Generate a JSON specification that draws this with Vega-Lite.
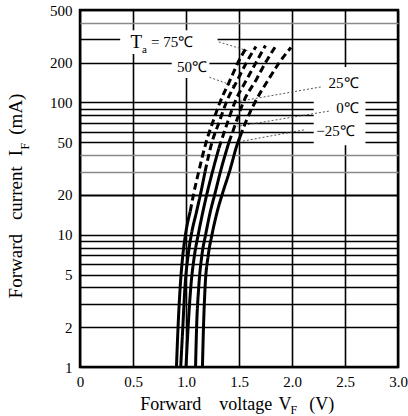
{
  "$schema": "https://vega.github.io/schema/vega-lite/v6.json",
  "width": 318,
  "height": 357,
  "autosize": {"type": "none"},
  "padding": {"left": 80, "top": 10, "right": 10, "bottom": 49},
  "config": {
    "view": {"stroke": "black", "strokeWidth": 2.5},
    "font": "Liberation Serif",
    "text": {"font": "Liberation Serif", "color": "black"}
  },
  "datasets": {
    "curves": [
      {"t": "75", "part": "solid", "i": 1, "v": 0.91},
      {"t": "75", "part": "solid", "i": 2, "v": 0.925},
      {"t": "75", "part": "solid", "i": 4, "v": 0.945},
      {"t": "75", "part": "solid", "i": 7, "v": 0.97},
      {"t": "75", "part": "solid", "i": 10, "v": 0.995},
      {"t": "75", "part": "solid", "i": 15, "v": 1.04},
      {"t": "75", "part": "dashed", "i": 15, "v": 1.04},
      {"t": "75", "part": "dashed", "i": 20, "v": 1.07},
      {"t": "75", "part": "dashed", "i": 30, "v": 1.12},
      {"t": "75", "part": "dashed", "i": 50, "v": 1.19},
      {"t": "75", "part": "dashed", "i": 70, "v": 1.25},
      {"t": "75", "part": "dashed", "i": 100, "v": 1.32},
      {"t": "75", "part": "dashed", "i": 150, "v": 1.42},
      {"t": "75", "part": "dashed", "i": 200, "v": 1.49},
      {"t": "75", "part": "dashed", "i": 260, "v": 1.57},

      {"t": "50", "part": "solid", "i": 1, "v": 0.95},
      {"t": "50", "part": "solid", "i": 2, "v": 0.97},
      {"t": "50", "part": "solid", "i": 4, "v": 0.99},
      {"t": "50", "part": "solid", "i": 7, "v": 1.02},
      {"t": "50", "part": "solid", "i": 10, "v": 1.05},
      {"t": "50", "part": "solid", "i": 15, "v": 1.1},
      {"t": "50", "part": "solid", "i": 20, "v": 1.135},
      {"t": "50", "part": "solid", "i": 30, "v": 1.18},
      {"t": "50", "part": "dashed", "i": 30, "v": 1.18},
      {"t": "50", "part": "dashed", "i": 50, "v": 1.245},
      {"t": "50", "part": "dashed", "i": 70, "v": 1.31},
      {"t": "50", "part": "dashed", "i": 100, "v": 1.38},
      {"t": "50", "part": "dashed", "i": 150, "v": 1.49},
      {"t": "50", "part": "dashed", "i": 200, "v": 1.57},
      {"t": "50", "part": "dashed", "i": 265, "v": 1.66},

      {"t": "25", "part": "solid", "i": 1, "v": 1.0},
      {"t": "25", "part": "solid", "i": 2, "v": 1.02},
      {"t": "25", "part": "solid", "i": 4, "v": 1.045},
      {"t": "25", "part": "solid", "i": 7, "v": 1.08},
      {"t": "25", "part": "solid", "i": 10, "v": 1.115},
      {"t": "25", "part": "solid", "i": 15, "v": 1.16},
      {"t": "25", "part": "solid", "i": 20, "v": 1.195},
      {"t": "25", "part": "solid", "i": 30, "v": 1.25},
      {"t": "25", "part": "solid", "i": 45, "v": 1.31},
      {"t": "25", "part": "dashed", "i": 45, "v": 1.31},
      {"t": "25", "part": "dashed", "i": 70, "v": 1.39},
      {"t": "25", "part": "dashed", "i": 100, "v": 1.46},
      {"t": "25", "part": "dashed", "i": 150, "v": 1.575},
      {"t": "25", "part": "dashed", "i": 200, "v": 1.66},
      {"t": "25", "part": "dashed", "i": 270, "v": 1.75},

      {"t": "0", "part": "solid", "i": 1, "v": 1.09},
      {"t": "0", "part": "solid", "i": 2, "v": 1.1},
      {"t": "0", "part": "solid", "i": 4, "v": 1.12},
      {"t": "0", "part": "solid", "i": 7, "v": 1.15},
      {"t": "0", "part": "solid", "i": 10, "v": 1.185},
      {"t": "0", "part": "solid", "i": 15, "v": 1.23},
      {"t": "0", "part": "solid", "i": 20, "v": 1.27},
      {"t": "0", "part": "solid", "i": 30, "v": 1.325},
      {"t": "0", "part": "solid", "i": 50, "v": 1.405},
      {"t": "0", "part": "dashed", "i": 50, "v": 1.405},
      {"t": "0", "part": "dashed", "i": 70, "v": 1.47},
      {"t": "0", "part": "dashed", "i": 100, "v": 1.54},
      {"t": "0", "part": "dashed", "i": 150, "v": 1.665},
      {"t": "0", "part": "dashed", "i": 200, "v": 1.75},
      {"t": "0", "part": "dashed", "i": 270, "v": 1.85},

      {"t": "-25", "part": "solid", "i": 1, "v": 1.155},
      {"t": "-25", "part": "solid", "i": 2, "v": 1.165},
      {"t": "-25", "part": "solid", "i": 4, "v": 1.18},
      {"t": "-25", "part": "solid", "i": 7, "v": 1.21},
      {"t": "-25", "part": "solid", "i": 10, "v": 1.245},
      {"t": "-25", "part": "solid", "i": 15, "v": 1.295},
      {"t": "-25", "part": "solid", "i": 20, "v": 1.34},
      {"t": "-25", "part": "solid", "i": 30, "v": 1.41},
      {"t": "-25", "part": "solid", "i": 50, "v": 1.49},
      {"t": "-25", "part": "solid", "i": 55, "v": 1.51},
      {"t": "-25", "part": "dashed", "i": 55, "v": 1.51},
      {"t": "-25", "part": "dashed", "i": 70, "v": 1.56},
      {"t": "-25", "part": "dashed", "i": 100, "v": 1.65},
      {"t": "-25", "part": "dashed", "i": 150, "v": 1.78},
      {"t": "-25", "part": "dashed", "i": 200, "v": 1.88},
      {"t": "-25", "part": "dashed", "i": 260, "v": 1.99}
    ],
    "labelBoxes": [
      {"v1": 0.379, "v2": 1.298, "i1": 232, "i2": 352},
      {"v1": 0.865, "v2": 1.221, "i1": 153, "i2": 232},
      {"v1": 2.205, "v2": 2.693, "i1": 47.5, "i2": 185}
    ],
    "leaders": [
      {"t": "75", "v1": 1.309, "i1": 287, "v2": 1.58, "i2": 246},
      {"t": "50", "v1": 1.221, "i1": 155, "v2": 1.456, "i2": 133},
      {"t": "25", "v1": 2.271, "i1": 131, "v2": 1.502, "i2": 102},
      {"t": "0", "v1": 2.347, "i1": 86, "v2": 1.485, "i2": 66},
      {"t": "-25", "v1": 2.112, "i1": 62, "v2": 1.533, "i2": 51}
    ],
    "tempLabels": [
      {"txt": "= 75℃", "v": 0.87, "i": 286},
      {"txt": "50℃", "v": 1.057, "i": 185},
      {"txt": "25℃", "v": 2.486, "i": 140},
      {"txt": "0℃", "v": 2.524, "i": 90.5},
      {"txt": "−25℃", "v": 2.411, "i": 60.7}
    ],
    "symbolT": [{"txt": "T", "v": 0.532, "i": 286}],
    "subA": [{"txt": "a", "v": 0.607, "i": 250}],
    "xTitle": [
      {"txt": "Forward", "v": 0.856, "i": 0.513},
      {"txt": "voltage", "v": 1.563, "i": 0.513},
      {"txt": "V", "v": 1.933, "i": 0.513},
      {"txt": "(V)", "v": 2.28, "i": 0.513}
    ],
    "xTitleSub": [{"txt": "F", "v": 2.018, "i": 0.47}],
    "yTitle": [
      {"txt": "Forward", "v": -0.606, "i": 5.78},
      {"txt": "current", "v": -0.606, "i": 20.6},
      {"txt": "I", "v": -0.606, "i": 41.4},
      {"txt": "(mA)", "v": -0.606, "i": 81.6}
    ],
    "yTitleSub": [{"txt": "F", "v": -0.52, "i": 46.7}]
  },
  "layer": [
    {
      "data": {"name": "labelBoxes"},
      "mark": {"type": "rect", "fill": "white", "stroke": null},
      "encoding": {
        "x": {"field": "v1", "type": "quantitative", "axis": {"title": null}},
        "x2": {"field": "v2"},
        "y": {"field": "i1", "type": "quantitative", "axis": {"title": null}},
        "y2": {"field": "i2"}
      }
    },
    {
      "data": {"name": "leaders"},
      "mark": {"type": "rule", "color": "#444", "strokeWidth": 0.9, "strokeDash": [2, 2]},
      "encoding": {
        "x": {"field": "v1", "type": "quantitative", "axis": {"title": null}},
        "y": {"field": "i1", "type": "quantitative", "axis": {"title": null}},
        "x2": {"field": "v2"},
        "y2": {"field": "i2"}
      }
    },
    {
      "data": {"name": "curves"},
      "mark": {"type": "line", "color": "black", "strokeWidth": 3, "interpolate": "monotone", "strokeCap": "butt"},
      "encoding": {
        "x": {
          "field": "v", "type": "quantitative",
          "scale": {"type": "linear", "domain": [0, 3], "nice": false, "zero": false},
          "axis": {
            "values": [0, 0.5, 1, 1.5, 2, 2.5, 3],
            "grid": true, "gridColor": "black", "gridWidth": 1.6, "gridOpacity": 1,
            "ticks": false, "domain": false,
            "labelFont": "Liberation Serif", "labelFontSize": 15, "labelColor": "black",
            "labelPadding": 7, "labelFlush": false,
            "labelExpr": "datum.value === 0 ? '0' : format(datum.value, '.1f')",
            "title": null
          }
        },
        "y": {
          "field": "i", "type": "quantitative",
          "scale": {"type": "log", "domain": [1, 500], "nice": false},
          "axis": {
            "values": [1, 2, 3, 4, 5, 6, 7, 8, 9, 10, 20, 30, 40, 50, 60, 70, 80, 90, 100, 200, 300, 400, 500],
            "grid": true,
            "gridColor": {"condition": {"test": "datum.value === 30 || datum.value === 40 || datum.value === 400", "value": "#8a8a8a"}, "value": "black"},
            "gridWidth": {"condition": {"test": "datum.value === 20", "value": 2.2}, "value": 1.3},
            "ticks": false, "domain": false,
            "labelFont": "Liberation Serif", "labelFontSize": 15, "labelColor": "black",
            "labelPadding": 8, "labelOverlap": false,
            "labelExpr": "indexof([1, 2, 5, 10, 20, 50, 100, 200, 500], datum.value) >= 0 ? format(datum.value, 'd') : ''",
            "title": null
          }
        },
        "detail": {"field": "t"},
        "order": {"field": "i", "type": "quantitative"},
        "strokeDash": {
          "field": "part", "type": "nominal",
          "scale": {"domain": ["solid", "dashed"], "range": [[1, 0], [7, 4]]},
          "legend": null
        }
      }
    },
    {
      "data": {"name": "tempLabels"},
      "mark": {"type": "text", "fontSize": 15, "align": "center", "baseline": "middle"},
      "encoding": {
        "x": {"field": "v", "type": "quantitative", "axis": {"title": null}},
        "y": {"field": "i", "type": "quantitative", "axis": {"title": null}},
        "text": {"field": "txt"}
      }
    },
    {
      "data": {"name": "symbolT"},
      "mark": {"type": "text", "fontSize": 19, "align": "center", "baseline": "middle"},
      "encoding": {
        "x": {"field": "v", "type": "quantitative", "axis": {"title": null}},
        "y": {"field": "i", "type": "quantitative", "axis": {"title": null}},
        "text": {"field": "txt"}
      }
    },
    {
      "data": {"name": "subA"},
      "mark": {"type": "text", "fontSize": 11, "align": "center", "baseline": "middle"},
      "encoding": {
        "x": {"field": "v", "type": "quantitative", "axis": {"title": null}},
        "y": {"field": "i", "type": "quantitative", "axis": {"title": null}},
        "text": {"field": "txt"}
      }
    },
    {
      "data": {"name": "xTitle"},
      "mark": {"type": "text", "fontSize": 18, "align": "center", "baseline": "middle"},
      "encoding": {
        "x": {"field": "v", "type": "quantitative", "axis": {"title": null}},
        "y": {"field": "i", "type": "quantitative", "axis": {"title": null}},
        "text": {"field": "txt"}
      }
    },
    {
      "data": {"name": "xTitleSub"},
      "mark": {"type": "text", "fontSize": 12, "align": "center", "baseline": "middle"},
      "encoding": {
        "x": {"field": "v", "type": "quantitative", "axis": {"title": null}},
        "y": {"field": "i", "type": "quantitative", "axis": {"title": null}},
        "text": {"field": "txt"}
      }
    },
    {
      "data": {"name": "yTitle"},
      "mark": {"type": "text", "fontSize": 19, "align": "center", "baseline": "middle", "angle": 270},
      "encoding": {
        "x": {"field": "v", "type": "quantitative", "axis": {"title": null}},
        "y": {"field": "i", "type": "quantitative", "axis": {"title": null}},
        "text": {"field": "txt"}
      }
    },
    {
      "data": {"name": "yTitleSub"},
      "mark": {"type": "text", "fontSize": 12, "align": "center", "baseline": "middle", "angle": 270},
      "encoding": {
        "x": {"field": "v", "type": "quantitative", "axis": {"title": null}},
        "y": {"field": "i", "type": "quantitative", "axis": {"title": null}},
        "text": {"field": "txt"}
      }
    }
  ]
}
